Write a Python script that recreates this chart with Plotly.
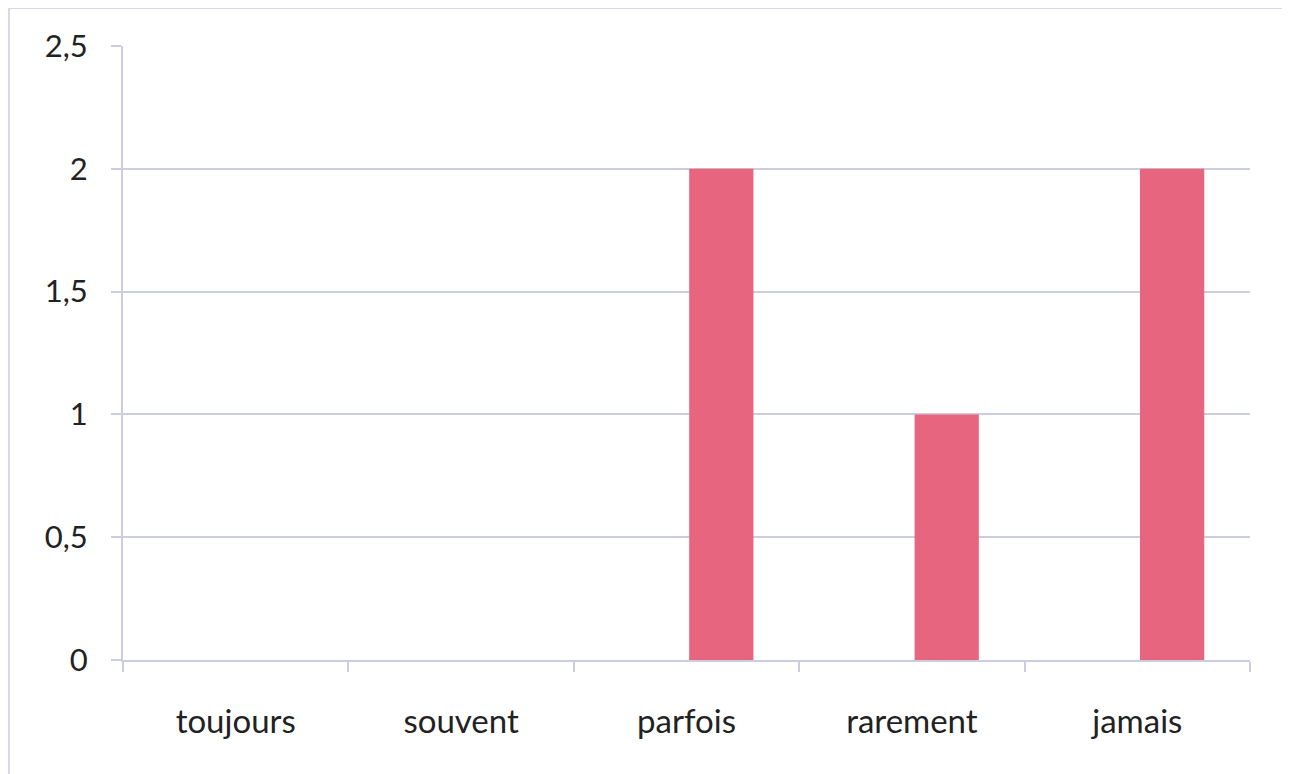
import plotly.graph_objects as go

categories = ["toujours", "souvent", "parfois", "rarement", "jamais"]
values = [0, 0, 2, 1, 2]
y_ticks = [0, 0.5, 1, 1.5, 2, 2.5]

grid_col = "#CDCDE0"
bar_col = "#E8657F"

L, T, PW, PH = 115, 38, 1127, 614
W, H = 1290, 774

def px(x):
    return (x - L) / PW

def py(y):
    return 1 - (y - T) / PH

fig = go.Figure(go.Bar(x=categories, y=values, marker=dict(color=bar_col, line=dict(width=0)),
                       width=0.285, offset=0.012))

fig.update_layout(
    width=W, height=H,
    margin=dict(l=L, r=W - L - PW, t=T, b=H - T - PH),
    paper_bgcolor="white", plot_bgcolor="white",
    separators=", ",
    showlegend=False,
    font=dict(family="Lato, Open Sans, sans-serif", size=31, color="#222222"),
    shapes=[
        dict(type="rect", xref="paper", yref="paper", x0=px(1), x1=px(1278), y0=py(H + 20), y1=py(0),
             line=dict(color="#D8D8EA", width=2), layer="below"),
    ],
)
fig.update_xaxes(
    type="category", showgrid=False, showline=True, linecolor=grid_col, linewidth=2,
    ticks="outside", tickson="boundaries", ticklen=10, tickcolor=grid_col, tickwidth=2,
    ticklabelstandoff=31, range=[-0.5, 4.5], tickfont=dict(size=33),
)
fig.update_yaxes(
    range=[0, 2.5], tickvals=y_ticks, showgrid=True, gridcolor=grid_col, gridwidth=1.5,
    showline=True, linecolor=grid_col, linewidth=2, zeroline=False,
    ticks="outside", ticklen=10, tickcolor=grid_col, tickwidth=2, ticklabelstandoff=17,
)
fig.write_html("out.html")
